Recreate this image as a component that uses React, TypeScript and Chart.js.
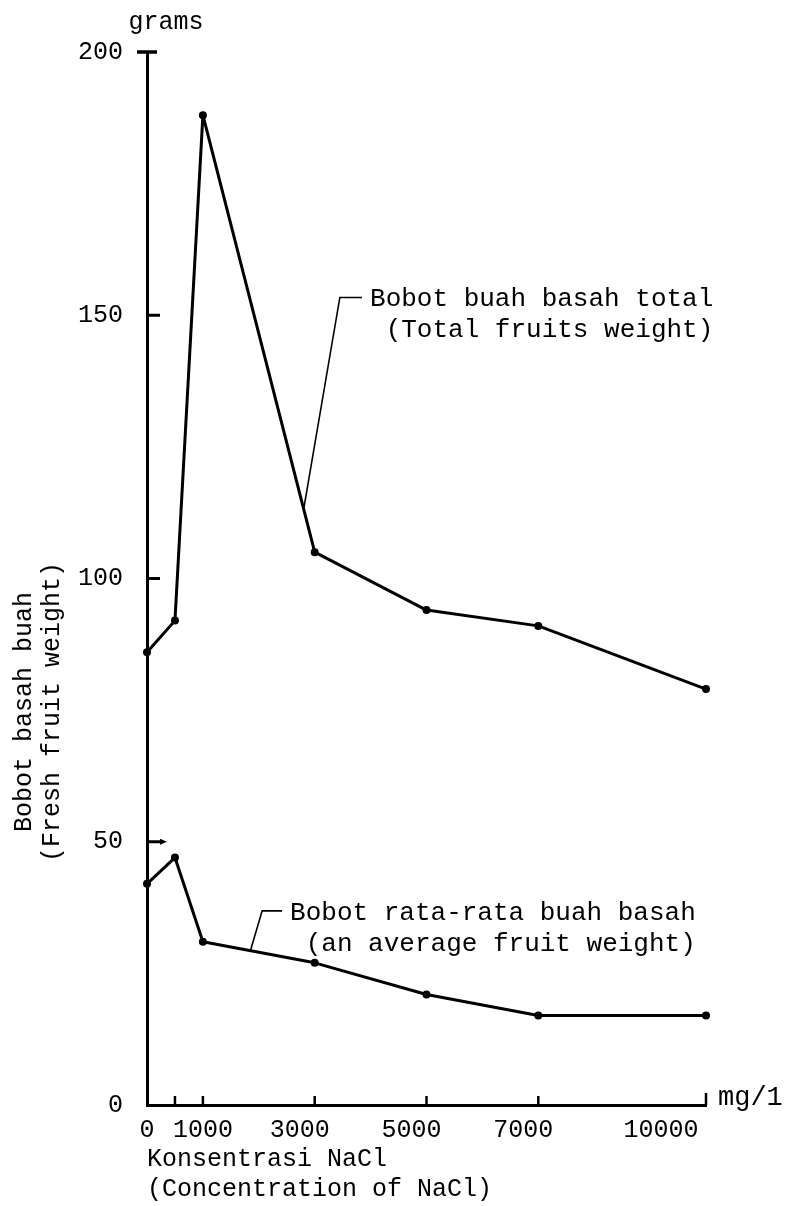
import React, { useEffect, useRef } from 'react';
import { Chart, registerables } from 'chart.js';

Chart.register(...registerables);

// ---- data ----
const concentrations = [0, 500, 1000, 3000, 5000, 7000, 10000];
const totalWeight = [86, 92, 188, 105, 94, 91, 79];
const averageWeight = [42, 47, 31, 27, 21, 17, 17];
const xTickValues = [0, 500, 1000, 3000, 5000, 7000, 10000];
// trailing spaces reproduce the typed labels sitting left of their tick marks
const xTickLabels = ['0', '', '1000', '3000  ', '5000  ', '7000  ', '10000      '];
const yTickValues = [0, 50, 100, 150, 200];
const totalLabel = ['Bobot buah basah total', ' (Total fruits weight)'];
const averageLabel = ['Bobot rata-rata buah basah', ' (an average fruit weight)'];
const yTitle = ['Bobot basah buah', '(Fresh fruit weight)'];
const xTitle = ['Konsentrasi NaCl', '(Concentration of NaCl)'];
const yUnit = 'grams';
const xUnit = 'mg/1';

// annotation anchors in data coordinates: [textX, textY, hookX, leaderEndX, leaderEndY]
const totalAnchor = [3990, 153, 3450, 2800, 113];
const averageAnchor = [2560, 36.5, 2060, 1850, 29.3];

const FONT = '"Liberation Mono", "DejaVu Sans Mono", monospace';

const decorPlugin = {
  id: 'decor',
  afterDraw(chart: any) {
    const { ctx, chartArea: a, scales } = chart;
    const x = scales.x;
    const y = scales.y;
    ctx.save();
    ctx.strokeStyle = '#000';
    ctx.fillStyle = '#000';
    ctx.lineCap = 'butt';

    // y tick marks (pointing into the plot)
    ctx.lineWidth = 3;
    [50, 100, 150].forEach((v) => {
      const py = y.getPixelForValue(v);
      ctx.beginPath();
      ctx.moveTo(a.left, py);
      ctx.lineTo(a.left + 13, py);
      ctx.stroke();
    });
    // arrow head on 50
    {
      const py = y.getPixelForValue(50);
      ctx.beginPath();
      ctx.moveTo(a.left + 20, py);
      ctx.lineTo(a.left + 13, py - 3);
      ctx.lineTo(a.left + 13, py + 3);
      ctx.closePath();
      ctx.fill();
    }
    // top cap at 200
    {
      const py = y.getPixelForValue(200);
      ctx.lineWidth = 3.5;
      ctx.beginPath();
      ctx.moveTo(a.left - 10, py);
      ctx.lineTo(a.left + 10, py);
      ctx.stroke();
    }
    // x tick marks (pointing up)
    ctx.lineWidth = 2.5;
    xTickValues.slice(1).forEach((v, i) => {
      const px = x.getPixelForValue(v);
      const len = i === xTickValues.length - 2 ? 12 : 9;
      ctx.beginPath();
      ctx.moveTo(px, a.bottom);
      ctx.lineTo(px, a.bottom - len);
      ctx.stroke();
    });

    ctx.textBaseline = 'middle';
    ctx.font = `25px ${FONT}`;
    // units
    ctx.textAlign = 'center';
    ctx.fillText(yUnit, a.left + 19, a.top - 30);
    ctx.textAlign = 'left';
    ctx.font = `27px ${FONT}`;
    ctx.fillText(xUnit, a.right + 12, a.bottom - 7);

    // y title (rotated)
    ctx.font = `25px ${FONT}`;
    ctx.save();
    ctx.translate(0, 712);
    ctx.rotate(-Math.PI / 2);
    ctx.textAlign = 'center';
    ctx.fillText(yTitle[0], 0, 24);
    ctx.fillText(yTitle[1], 0, 52);
    ctx.restore();

    // annotations with leader lines
    ctx.font = `26px ${FONT}`;
    ctx.lineWidth = 1.6;
    [
      [totalAnchor, totalLabel],
      [averageAnchor, averageLabel],
    ].forEach(([anc, lines]: any) => {
      const tx = x.getPixelForValue(anc[0]);
      const ty = y.getPixelForValue(anc[1]);
      const hx = x.getPixelForValue(anc[2]);
      const ex = x.getPixelForValue(anc[3]);
      const ey = y.getPixelForValue(anc[4]);
      ctx.textAlign = 'left';
      ctx.fillText(lines[0], tx, ty);
      ctx.fillText(lines[1], tx, ty + 31);
      ctx.beginPath();
      ctx.moveTo(tx - 8, ty - 2);
      ctx.lineTo(hx, ty - 2);
      ctx.lineTo(ex, ey);
      ctx.stroke();
    });
    ctx.restore();
  },
};

export default function App() {
  const ref = useRef<HTMLCanvasElement | null>(null);
  useEffect(() => {
    if (!ref.current) return;
    const mk = (vals: number[]) => ({
      data: concentrations.map((c, i) => ({ x: c, y: vals[i] })),
      borderColor: '#000',
      borderWidth: 3,
      borderJoinStyle: 'round',
      pointRadius: 4,
      pointBackgroundColor: '#000',
      pointBorderColor: '#000',
      pointBorderWidth: 0,
      tension: 0,
      clip: false as any,
    });
    const chart = new Chart(ref.current, {
      type: 'line',
      data: { datasets: [mk(totalWeight), mk(averageWeight)] as any },
      options: {
        animation: false,
        responsive: false,
        layout: { padding: { top: 52, right: 85, left: 0, bottom: 0 } },
        plugins: { legend: { display: false }, tooltip: { enabled: false } },
        scales: {
          x: {
            type: 'linear',
            min: 0,
            max: 10000,
            afterFit(s: any) {
              s.height = 101;
              s.paddingLeft = 0;
              s.paddingRight = 0;
            },
            afterBuildTicks(s: any) {
              s.ticks = xTickValues.map((v) => ({ value: v }));
            },
            ticks: {
              callback: (_v: any, i: number) => xTickLabels[i],
              font: { family: FONT, size: 25 },
              color: '#000',
              padding: 10,
              maxRotation: 0,
              autoSkip: false,
            },
            grid: { display: false, drawTicks: false },
            border: { display: true, color: '#000', width: 3 },
            title: {
              display: true,
              text: xTitle,
              align: 'start',
              color: '#000',
              font: { family: FONT, size: 25, lineHeight: 1.2 },
              padding: { top: 0, bottom: 2 },
            },
          },
          y: {
            type: 'linear',
            min: 0,
            max: 200,
            afterFit(s: any) {
              s.width = 147;
              s.paddingTop = 0;
              s.paddingBottom = 0;
            },
            afterBuildTicks(s: any) {
              s.ticks = yTickValues.map((v) => ({ value: v }));
            },
            ticks: {
              font: { family: FONT, size: 25 },
              color: '#000',
              padding: 24,
            },
            grid: { display: false, drawTicks: false },
            border: { display: true, color: '#000', width: 3 },
          },
        },
      } as any,
      plugins: [decorPlugin],
    });
    return () => chart.destroy();
  }, []);
  return (
    <div style={{ position: 'absolute', left: 0, top: 0, width: 791, height: 1206, background: '#fff' }}>
      <canvas ref={ref} width={791} height={1206} style={{ display: 'block' }} />
    </div>
  );
}
